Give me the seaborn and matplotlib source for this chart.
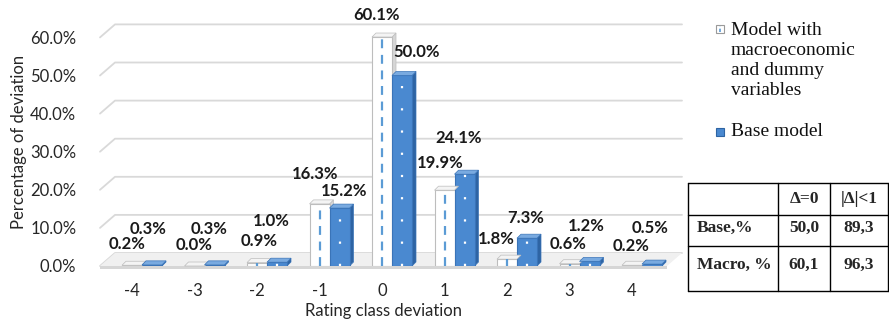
import matplotlib
matplotlib.use("Agg")
import matplotlib.pyplot as plt
from matplotlib.patches import Polygon, Rectangle
from matplotlib.lines import Line2D
import pandas as pd
import seaborn as sns

# ---- data -------------------------------------------------------------
deviation = ["-4", "-3", "-2", "-1", "0", "1", "2", "3", "4"]
macro_pct = [0.2, 0.0, 0.9, 16.3, 60.1, 19.9, 1.8, 0.6, 0.2]
base_pct = [0.3, 0.3, 1.0, 15.2, 50.0, 24.1, 7.3, 1.2, 0.5]
series_names = ["Model with\nmacroeconomic\nand dummy\nvariables", "Base model"]
y_ticks = [0, 10, 20, 30, 40, 50, 60]

table_header = ["", "Δ=0", "|Δ|<1"]
table_rows = [["Base,%", "50,0", "89,3"],
              ["Macro, %", "60,1", "96,3"]]

# ---- layout (pixels) --------------------------------------------------
W, H = 889, 326
# value-label nudges (dx, dy-up) in pixels from each bar's top centre
macro_nudge = [(-5, 21), (0, 21), (2, 22), (-4, 30), (-5, 22), (-4, 27), (-11, 20), (-1, 20), (-1, 19)]
base_nudge = [(-4, 36), (-5, 36), (-6, 41), (5, 17), (15, 23), (-6, 36), (-1, 20), (-3, 35), (-2, 36)]

sns.set_theme(style="white")
plt.rcParams["font.family"] = ["Lato", "DejaVu Sans"]

fig = plt.figure(figsize=(W / 100, H / 100), dpi=100)
px_per_cat = 62.5
px_per_pct = 3.81
ax_left_px, ax_right_px, ax_zero_px = 100, 667, 266
ymax = 65
ax = fig.add_axes([ax_left_px / W, (H - ax_zero_px) / H,
                   (ax_right_px - ax_left_px) / W, ymax * px_per_pct / H])

df = pd.DataFrame({
    "Deviation": deviation * 2,
    "Model": [series_names[0]] * len(deviation) + [series_names[1]] * len(deviation),
    "Value": macro_pct + base_pct,
})

macro_face, base_face = "#FFFFFF", "#4A89D0"
sns.barplot(data=df, x="Deviation", y="Value", hue="Model", order=deviation,
            hue_order=series_names, palette=[macro_face, base_face],
            saturation=1, width=0.64, legend=False, ax=ax, zorder=3)

tick_shift = -0.16
xl = tick_shift - (132 - ax_left_px) / px_per_cat
xr = xl + (ax_right_px - ax_left_px) / px_per_cat
ax.set_xlim(xl, xr)
ax.set_ylim(0, ymax)
xpp = 1 / px_per_cat      # x data units per pixel
ypp = 1 / px_per_pct      # y data units per pixel

# 3-D style walls: slanted side wall stub + back wall gridlines
depth_x, depth_y = 15, 13
for v in y_ticks:
    ax.add_line(Line2D([xl, xl + depth_x * xpp, xr + depth_x * xpp],
                       [v, v + depth_y * ypp, v + depth_y * ypp],
                       color="#D9D9D9", lw=1.3, clip_on=False, zorder=0))
# floor
ax.add_patch(Polygon([(xl, 0), (xr, 0), (xr + depth_x * xpp, depth_y * ypp),
                      (xl + depth_x * xpp, depth_y * ypp)],
                     closed=True, fc="#F0F0F0", ec="none", clip_on=False, zorder=1))
ax.add_patch(Polygon([(xl, 0), (xr, 0), (xr, -3 * ypp), (xl, -3 * ypp)],
                     closed=True, fc="#D6D6D6", ec="none", clip_on=False, zorder=1))

# bar styling: side/top faces and centre line
styles = [
    dict(edge="#BDBDBD", side="#D6D6D6", top="#F4F4F4", line="#5B9BD5", ls=(0, (4, 3)), lw=1.6),
    dict(edge="#3A74B8", side="#2E64A3", top="#79AAE0", line="#FFFFFF", ls=(0, (1, 9)), lw=1.6),
]
bx, by = 4 * xpp, 4 * ypp
for cont, st in zip(ax.containers, styles):
    for p in cont.patches:
        x0, w, h = p.get_x(), p.get_width(), p.get_height()
        p.set_edgecolor(st["edge"])
        p.set_linewidth(0.8)
        ax.add_patch(Polygon([(x0 + w, 0), (x0 + w + bx, by), (x0 + w + bx, h + by), (x0 + w, h)],
                             closed=True, fc=st["side"], ec=st["edge"], lw=0.5, zorder=2.9))
        ax.add_patch(Polygon([(x0, h), (x0 + w, h), (x0 + w + bx, h + by), (x0 + bx, h + by)],
                             closed=True, fc=st["top"], ec=st["edge"], lw=0.5, zorder=3.1, clip_on=False))
        if h > 0.5:
            ax.add_line(Line2D([x0 + w / 2, x0 + w / 2], [0, h], color=st["line"],
                               lw=st["lw"], ls=st["ls"], zorder=3.2))

# value labels
for cont, vals, nudges in zip(ax.containers, [macro_pct, base_pct], [macro_nudge, base_nudge]):
    for p, v, (dx, dy) in zip(cont.patches, vals, nudges):
        ax.annotate(f"{v:.1f}%", (p.get_x() + p.get_width() / 2, p.get_height()),
                    xytext=(dx * 0.72, dy * 0.72), textcoords="offset points",
                    ha="center", va="center", fontsize=12, fontweight="bold",
                    color="#1A1A1A", zorder=5, annotation_clip=False)

ax.set_xticks([i + tick_shift for i in range(len(deviation))], deviation)
ax.set_yticks(y_ticks, [f"{v:.1f}%" for v in y_ticks])
ax.tick_params(axis="both", length=0, labelsize=12, colors="#262626")
ax.tick_params(axis="x", pad=12)
ax.tick_params(axis="y", pad=17)
ax.set_xlabel("Rating class deviation", fontsize=12, color="#262626", labelpad=3)
ax.set_ylabel("Percentage of deviation", fontsize=12, color="#262626", labelpad=2)
for s in ax.spines.values():
    s.set_visible(False)
ax.grid(False)
ax.set_facecolor("none")

# ---- legend -----------------------------------------------------------
def fx(x):
    return x / W


def fy(y):
    return 1 - y / H


serif = ["Liberation Serif", "DejaVu Serif"]
fig.add_artist(Rectangle((fx(716), fy(33)), 8 / W, 8 / H, transform=fig.transFigure,
                         fc="#FFFFFF", ec="#9A9A9A", lw=0.8))
fig.add_artist(Line2D([fx(720), fx(720)], [fy(32), fy(26)], transform=fig.transFigure,
                      color="#5B9BD5", lw=1.2, ls=(0, (2, 1.5))))
fig.text(fx(731), fy(22), series_names[0], family=serif, fontsize=14,
         va="top", ha="left", linespacing=1.22, color="#111111")
fig.add_artist(Rectangle((fx(716), fy(136)), 8 / W, 8 / H, transform=fig.transFigure,
                         fc=base_face, ec="#2E64A3", lw=0.8))
fig.text(fx(731), fy(131), series_names[1], family=serif, fontsize=14,
         va="center", ha="left", color="#111111")

# ---- summary table ----------------------------------------------------
col_edges = [688, 778, 830, 888]
row_edges = [183, 215, 246, 291]
for xe in col_edges:
    fig.add_artist(Line2D([fx(xe), fx(xe)], [fy(row_edges[0]), fy(row_edges[-1])],
                          transform=fig.transFigure, color="#000000", lw=1.0))
for ye in row_edges:
    fig.add_artist(Line2D([fx(col_edges[0]), fx(col_edges[-1])], [fy(ye), fy(ye)],
                          transform=fig.transFigure, color="#000000", lw=1.0))
row_text_y = [199, 228, 265]
for r, cells in enumerate([table_header] + table_rows):
    for c, txt in enumerate(cells):
        if not txt:
            continue
        if c == 0:
            fig.text(fx(col_edges[0] + 9), fy(row_text_y[r]), txt, family=serif,
                     fontsize=12.5, fontweight="bold", ha="left", va="center")
        else:
            xc = (col_edges[c] + col_edges[c + 1]) / 2
            fig.text(fx(xc), fy(row_text_y[r]), txt, family=serif,
                     fontsize=12.5, fontweight="bold", ha="center", va="center")

fig.savefig("out.png", dpi=100)
